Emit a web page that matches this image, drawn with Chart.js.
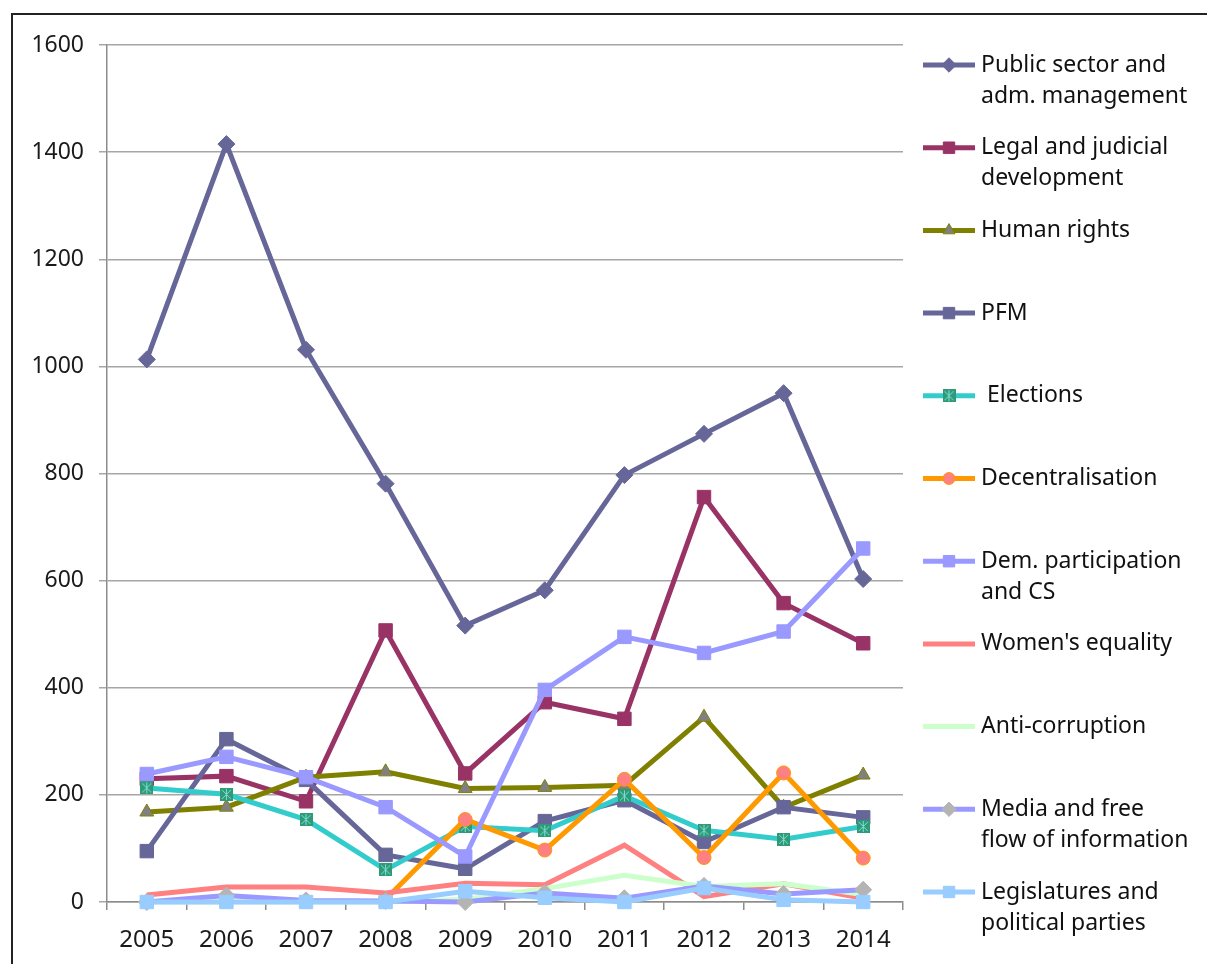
<!DOCTYPE html>
<html lang="en">
<head>
    <meta charset="UTF-8">
    <title>Aid by sub-sector 2005-2014</title>
    <style>
        html, body {
            margin: 0;
            padding: 0;
            background: #ffffff;
            overflow: hidden;
        }
        .chart-wrap {
            position: relative;
            width: 1207px;
            height: 964px;
        }
        .frame {
            position: absolute;
            left: 11px;
            top: 13px;
            width: 1300px;
            height: 1000px;
            border: 2px solid #222;
            pointer-events: none;
        }
        #lineChart {
            position: absolute;
            left: 0;
            top: 0;
        }
    </style>
</head>
<body>
<div class="chart-wrap">
    <div class="frame"></div>
    <canvas id="lineChart" width="1207" height="964"></canvas>
</div>

<script src="https://cdn.jsdelivr.net/npm/chart.js"></script>
<script>
    // data
    const years = ['2005', '2006', '2007', '2008', '2009', '2010', '2011', '2012', '2013', '2014'];

    const publicSector     = [1013, 1415, 1031, 781, 516, 582, 797, 874, 950, 603];
    const legalJudicial    = [230, 235, 188, 507, 240, 373, 342, 756, 558, 483];
    const humanRights      = [168, 177, 233, 243, 212, 214, 218, 345, 177, 237];
    const pfm              = [95, 304, 228, 88, 62, 151, 190, 112, 177, 158];
    const elections        = [213, 201, 154, 60, 141, 133, 198, 134, 117, 141];
    const decentralisation = [null, null, null, 5, 154, 97, 229, 83, 241, 82];
    const demParticipation = [239, 271, 233, 177, 85, 396, 495, 465, 505, 660];
    const womensEquality   = [13, 28, 28, 17, 35, 32, 106, 10, 34, 7];
    const antiCorruption   = [0, 0, 0, 0, 5, 25, 50, 29, 34, 14];
    const mediaInfo        = [0, 12, 3, 2, 0, 17, 7, 30, 15, 23];
    const legislatures     = [0, 0, 0, 0, 20, 8, 0, 26, 4, 0];

    const seriesNames = [
        ['Public sector and', 'adm. management'],
        ['Legal and judicial', 'development'],
        ['Human rights'],
        ['PFM'],
        [' Elections'],
        ['Decentralisation'],
        ['Dem. participation', 'and CS'],
        ["Women's equality"],
        ['Anti-corruption'],
        ['Media and free', 'flow of information'],
        ['Legislatures and', 'political parties']
    ];

    // green box with a light cross, like the Excel marker for Elections
    function crossBox() {
        const c = document.createElement('canvas');
        c.width = 13;
        c.height = 13;
        const g = c.getContext('2d');
        g.fillStyle = '#2f9a78';
        g.fillRect(0, 0, 13, 13);
        g.strokeStyle = '#7fe0d4';
        g.lineWidth = 1;
        g.beginPath();
        g.moveTo(2, 2); g.lineTo(11, 11);
        g.moveTo(11, 2); g.lineTo(2, 11);
        g.moveTo(6.5, 1); g.lineTo(6.5, 12);
        g.stroke();
        return c;
    }

    function series(name, data, line, style, radius, fill, edge) {
        return {
            label: name.join(' '),
            data: data,
            borderColor: line,
            borderWidth: 5,
            pointStyle: style,
            pointRadius: radius,
            pointBackgroundColor: fill || line,
            pointBorderColor: edge || fill || line,
            pointBorderWidth: 1,
            tension: 0,
            clip: false,
            spanGaps: false
        };
    }

    const datasets = [
        series(seriesNames[0], publicSector, '#666699', 'rectRot', 8.5),
        series(seriesNames[1], legalJudicial, '#993366', 'rect', 9.5),
        series(seriesNames[2], humanRights, '#808000', 'triangle', 8, '#808080', '#808000'),
        series(seriesNames[3], pfm, '#666699', 'rect', 9.5),
        series(seriesNames[4], elections, '#33cccc', crossBox(), 7),
        series(seriesNames[5], decentralisation, '#ff9900', 'circle', 7, '#ff8080', '#ff9900'),
        series(seriesNames[6], demParticipation, '#9999ff', 'rect', 9.5),
        series(seriesNames[7], womensEquality, '#ff8080', 'circle', 0),
        series(seriesNames[8], antiCorruption, '#ccffcc', 'circle', 0),
        series(seriesNames[9], mediaInfo, '#9999ff', 'rectRot', 8.5, '#b4b4b4', '#b4b4b4'),
        series(seriesNames[10], legislatures, '#99ccff', 'rect', 9.5)
    ];
    // Excel paints later series on top
    datasets.forEach((ds, i) => { ds.order = datasets.length - i; });

    // legend on the right, drawn by hand so long names can wrap
    const sideLegend = {
        id: 'sideLegend',
        afterDraw(chart) {
            const ctx = chart.ctx;
            chart.data.datasets.forEach((ds, i) => {
                const y = 65 + i * 82.7;
                ctx.save();
                ctx.strokeStyle = ds.borderColor;
                ctx.lineWidth = ds.borderWidth;
                ctx.beginPath();
                ctx.moveTo(923, y);
                ctx.lineTo(975, y);
                ctx.stroke();
                if (ds.pointRadius > 0) {
                    ctx.fillStyle = ds.pointBackgroundColor;
                    ctx.strokeStyle = ds.pointBorderColor;
                    ctx.lineWidth = ds.pointBorderWidth;
                    Chart.helpers.drawPoint(ctx, {
                        pointStyle: ds.pointStyle,
                        rotation: 0,
                        radius: ds.pointRadius * 0.85,
                        borderWidth: ds.pointBorderWidth
                    }, 949, y);
                }
                ctx.fillStyle = '#111111';
                ctx.font = '23px "Noto Sans"';
                ctx.textBaseline = 'middle';
                ctx.textAlign = 'left';
                seriesNames[i].forEach((txt, k) => {
                    ctx.fillText(txt, 981, y + k * 31);
                });
                ctx.restore();
            });
        }
    };

    Chart.defaults.font.family = '"Noto Sans", sans-serif';

    new Chart(document.getElementById('lineChart'), {
        type: 'line',
        data: {
            labels: years,
            datasets: datasets
        },
        options: {
            responsive: false,
            animation: false,
            layout: {
                padding: { left: 0, right: 304, top: 45, bottom: 0 }
            },
            plugins: {
                legend: { display: false },
                tooltip: { enabled: false }
            },
            scales: {
                x: {
                    type: 'category',
                    offset: true,
                    afterFit(scale) { scale.height = 62; },
                    grid: {
                        offset: true,
                        drawOnChartArea: false,
                        tickLength: 8,
                        color: '#8c8c8c',
                        lineWidth: 1.5
                    },
                    border: { color: '#8c8c8c', width: 1.5 },
                    ticks: {
                        color: '#1a1a1a',
                        font: { size: 24 },
                        padding: 16,
                        maxRotation: 0
                    }
                },
                y: {
                    min: 0,
                    max: 1600,
                    afterFit(scale) { scale.width = 107; },
                    grid: {
                        color: '#a6a6a6',
                        lineWidth: 1.5,
                        tickLength: 8
                    },
                    border: { color: '#8c8c8c', width: 1.5 },
                    ticks: {
                        stepSize: 200,
                        color: '#1a1a1a',
                        font: { size: 23 },
                        padding: 15,
                        callback: value => String(value)
                    }
                }
            }
        },
        plugins: [sideLegend]
    });
</script>
</body>
</html>
